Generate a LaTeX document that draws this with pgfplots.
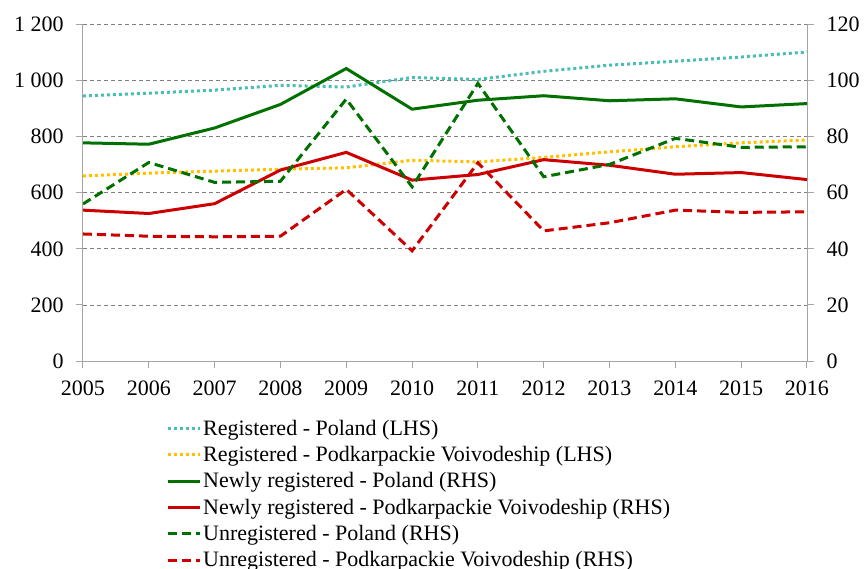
\documentclass[border=0pt]{standalone}
\usepackage{fontspec}
\setmainfont{Liberation Serif}
\usepackage{pgfplots}
\pgfplotsset{compat=1.18}
\definecolor{cteal}{RGB}{75,189,180}
\definecolor{cyel}{RGB}{255,192,0}
\definecolor{cgreen}{RGB}{0,112,0}
\definecolor{cred}{RGB}{204,0,0}
\definecolor{cgrid}{RGB}{128,128,128}
\definecolor{caxis}{RGB}{165,165,165}
\begin{document}
\begin{tikzpicture}
\pgfplotsset{
  base/.style={scale only axis, width=724pt, height=336.5pt,
    xmin=2005, xmax=2016, ymin=0,
    tick align=outside, major tick length=7pt,
    every tick/.style={caxis, line width=1pt},
    axis line style={caxis, line width=1pt},
    tick label style={font=\rmfamily\fontsize{22}{26}\selectfont, /pgf/number format/assume math mode=true},
    xtick={2005,...,2016},
    x tick label style={/pgf/number format/1000 sep={}, yshift=-9pt},
  },
  dotline/.style={line width=3pt, dash pattern=on 3pt off 3pt},
  dashline/.style={line width=3pt, dash pattern=on 9pt off 5pt},
  solidline/.style={line width=3pt},
}
\begin{axis}[base, at={(0,0)}, anchor=south west,
  axis x line*=bottom, axis y line*=left,
  ymax=1200, ytick={0,200,...,1200},
  yticklabels={0,200,400,600,800,1 000,1 200},
  y tick label style={xshift=-9pt},
  ymajorgrids, grid style={cgrid, line width=0.8pt, dash pattern=on 4pt off 3pt},
  legend style={draw=none, fill=none, inner sep=0pt,
    at={(axis description cs:0.1146,-0.1685)}, anchor=north west,
    font=\rmfamily\fontsize{22}{26}\selectfont, row sep=5.6pt,
    nodes={inner xsep=2pt, inner ysep=2pt}},
  legend cell align=left,
  legend image code/.code={\draw[#1] (0pt,0pt) -- (32pt,0pt);},
]
\addplot[cteal, dotline] coordinates {
(2005,945) (2006,955) (2007,966) (2008,983) (2009,977) (2010,1011)
(2011,1004) (2012,1033) (2013,1055) (2014,1069) (2015,1084) (2016,1102)};
\addlegendentry{Registered - Poland (LHS)}
\addplot[cyel, dotline] coordinates {
(2005,660) (2006,670) (2007,677) (2008,684) (2009,689) (2010,716)
(2011,710) (2012,726) (2013,746) (2014,764) (2015,778) (2016,788)};
\addlegendentry{Registered - Podkarpackie Voivodeship (LHS)}
\addlegendimage{cgreen, solidline}
\addlegendentry{Newly registered - Poland (RHS)}
\addlegendimage{cred, solidline}
\addlegendentry{Newly registered - Podkarpackie Voivodeship (RHS)}
\addlegendimage{cgreen, dashline}
\addlegendentry{Unregistered - Poland (RHS)}
\addlegendimage{cred, dashline}
\addlegendentry{Unregistered - Podkarpackie Voivodeship (RHS)}
\end{axis}
\begin{axis}[base, at={(0,0)}, anchor=south west,
  axis x line=none, axis y line*=right,
  ymax=120, ytick={0,20,...,120},
  y tick label style={xshift=9pt},
]
\addplot[cgreen, solidline] coordinates {
(2005,77.8) (2006,77.3) (2007,83.1) (2008,91.5) (2009,104.3) (2010,89.8)
(2011,93.0) (2012,94.6) (2013,92.8) (2014,93.5) (2015,90.6) (2016,91.8)};
\addplot[cred, solidline] coordinates {
(2005,53.8) (2006,52.6) (2007,56.1) (2008,68.1) (2009,74.4) (2010,64.5)
(2011,66.5) (2012,71.8) (2013,69.8) (2014,66.6) (2015,67.2) (2016,64.7)};
\addplot[cgreen, dashline] coordinates {
(2005,56.0) (2006,70.8) (2007,63.7) (2008,64.1) (2009,93.4) (2010,62.1)
(2011,99.0) (2012,65.7) (2013,70.1) (2014,79.4) (2015,76.2) (2016,76.4)};
\addplot[cred, dashline] coordinates {
(2005,45.3) (2006,44.5) (2007,44.3) (2008,44.5) (2009,61.2) (2010,39.3)
(2011,70.7) (2012,46.4) (2013,49.3) (2014,53.8) (2015,53.0) (2016,53.2)};
\end{axis}
\pgfresetboundingbox
\useasboundingbox (-83pt,-207pt) rectangle (783pt,361pt);
\end{tikzpicture}
\end{document}
